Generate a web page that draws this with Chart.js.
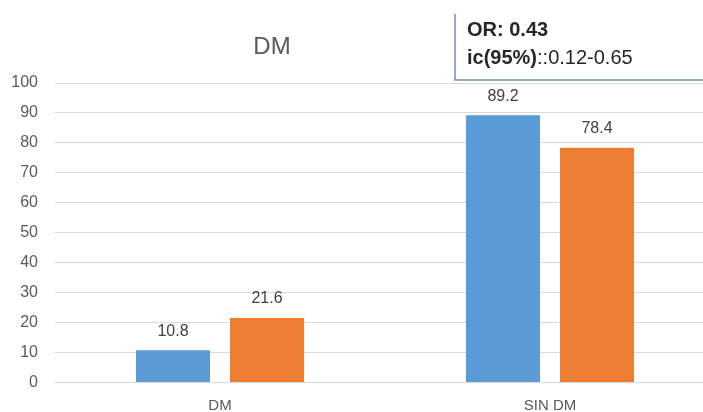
<!DOCTYPE html>
<html>
<head>
<meta charset="utf-8">
<script src="https://cdn.jsdelivr.net/npm/chart.js@4"></script>
<style>
  html, body { margin: 0; padding: 0; background: #ffffff; overflow: hidden; }
  #wrap { position: relative; width: 715px; height: 430px; }
</style>
</head>
<body>
<div id="wrap"><canvas id="c"></canvas></div>
<script>
const categories = ["DM", "SIN DM"];
const seriesBlue = [10.8, 89.2];
const seriesOrange = [21.6, 78.4];
const yTicks = [0, 10, 20, 30, 40, 50, 60, 70, 80, 90, 100];
const chartTitle = "DM";
const noteLine1 = "OR: 0.43";
const noteLine2Bold = "ic(95%)";
const noteLine2Rest = "::0.12-0.65";

const FONT = "'Liberation Sans', Arial, sans-serif";

const overlay = {
  id: 'overlay',
  afterDatasetsDraw(chart) {
    const ctx = chart.ctx;
    ctx.save();
    // value labels
    ctx.font = "16px " + FONT;
    ctx.fillStyle = "#404040";
    ctx.textAlign = "center";
    ctx.textBaseline = "bottom";
    chart.data.datasets.forEach((ds, i) => {
      const meta = chart.getDatasetMeta(i);
      meta.data.forEach((bar, j) => {
        ctx.fillText(String(ds.data[j]), bar.x, bar.y - 11);
      });
    });
    // title
    ctx.font = "24px " + FONT;
    ctx.fillStyle = "#595959";
    ctx.textAlign = "center";
    ctx.textBaseline = "middle";
    ctx.fillText(chartTitle, 272, 47);
    // note box
    ctx.fillStyle = "#ffffff";
    ctx.fillRect(455, -5, 300, 85);
    ctx.strokeStyle = "#6d8ebf";
    ctx.lineWidth = 1.5;
    ctx.beginPath();
    ctx.moveTo(455, 14);
    ctx.lineTo(455, 80);
    ctx.lineTo(760, 80);
    ctx.stroke();
    ctx.fillStyle = "#262626";
    ctx.textAlign = "left";
    ctx.textBaseline = "middle";
    ctx.font = "bold 20px " + FONT;
    ctx.fillText(noteLine1, 467, 30);
    ctx.fillText(noteLine2Bold, 467, 58);
    const w = ctx.measureText(noteLine2Bold).width;
    ctx.font = "20px " + FONT;
    ctx.fillText(noteLine2Rest, 467 + w, 58);
    ctx.restore();
  }
};

new Chart(document.getElementById('c'), {
  type: 'bar',
  data: {
    labels: categories,
    datasets: [
      { data: seriesBlue, backgroundColor: '#5b9bd5', categoryPercentage: 0.57, barPercentage: 0.787 },
      { data: seriesOrange, backgroundColor: '#ed7d31', categoryPercentage: 0.57, barPercentage: 0.787 }
    ]
  },
  options: {
    responsive: true,
    maintainAspectRatio: false,
    animation: false,
    layout: { padding: { top: 83, left: 0, right: 0, bottom: 0 } },
    plugins: { legend: { display: false }, title: { display: false }, tooltip: { enabled: false } },
    scales: {
      x: {
        grid: { display: false, drawTicks: false },
        border: { display: false },
        ticks: { color: '#595959', font: { family: FONT, size: 15 }, padding: 14 },
        afterFit(s) { s.height = 47.4; }
      },
      y: {
        min: 0, max: 100,
        afterBuildTicks(s) { s.ticks = yTicks.map(v => ({ value: v })); },
        grid: { color: '#d9d9d9', lineWidth: 1, drawTicks: false },
        border: { display: false },
        ticks: { color: '#595959', font: { family: FONT, size: 16 }, padding: 17 },
        afterFit(s) { s.width = 55; }
      }
    }
  },
  plugins: [overlay]
});
</script>
</body>
</html>
